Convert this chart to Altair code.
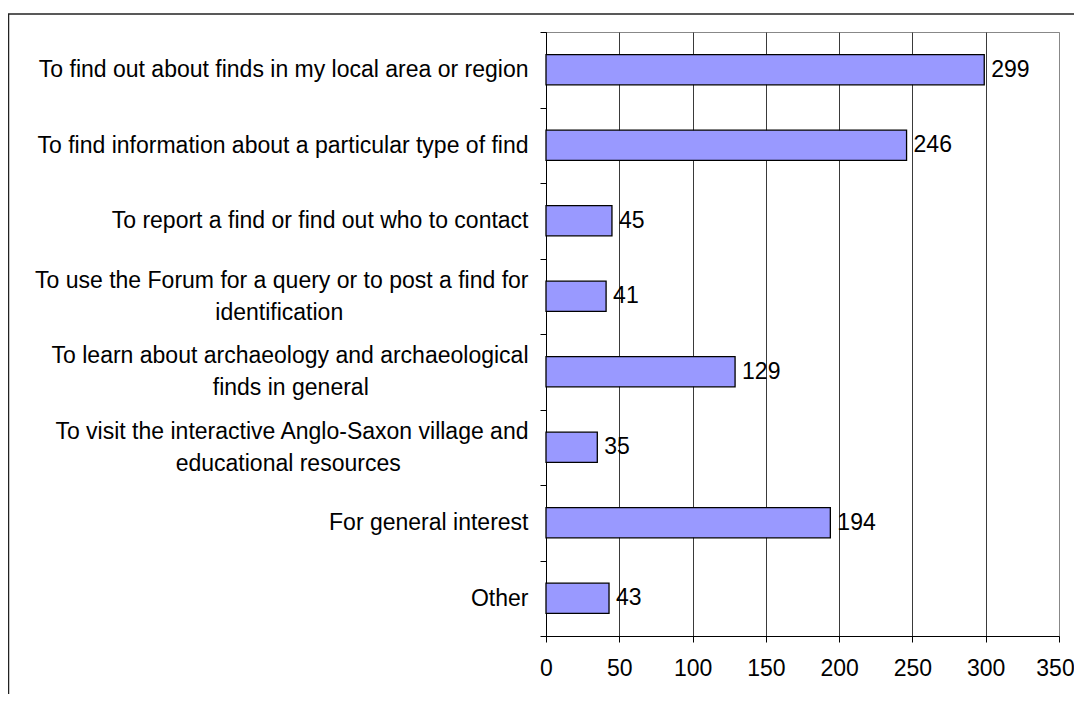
import altair as alt
import pandas as pd

# Category labels; "|" marks a line break in the axis label.
categories = [
    "To find out about finds in my local area or region",
    "To find information about a particular type of find",
    "To report a find or find out who to contact",
    "To use the Forum for a query or to post a find for|identification",
    "To learn about archaeology and archaeological|finds in general",
    "To visit the interactive Anglo-Saxon village and|educational resources",
    "For general interest",
    "Other",
]
counts = [299, 246, 45, 41, 129, 35, 194, 43]
x_ticks = [0, 50, 100, 150, 200, 250, 300, 350]

# Arial-style advance widths (1/1000 em), used only to centre the second
# line of a wrapped label under its first line (labels are right-aligned).
_W = dict(zip("abcdefghijklmnopqrstuvwxyz",
              [556, 556, 500, 556, 556, 278, 556, 556, 222, 222, 500, 222, 833,
               556, 556, 556, 556, 333, 500, 278, 556, 500, 722, 500, 500, 500]))
_W.update({" ": 278, "-": 333, "T": 611, "F": 611, "A": 667, "S": 667, "O": 778})


def _width(s):
    return sum(_W.get(c, 556) for c in s)


def centre_lines(label):
    parts = label.split("|")
    if len(parts) == 1:
        return label
    first = parts[0]
    out = [first]
    for p in parts[1:]:
        n = max(0, round((_width(first) - _width(p)) / 2 / 278))
        # non-breaking spaces closed by a zero-width space so they are not trimmed
        out.append(p + "\u00a0" * n + "\u200b")
    return "|".join(out)


display_labels = [centre_lines(c) for c in categories]

df = pd.DataFrame({"reason": display_labels, "count": counts})

FONT = "Liberation Sans, Arial, sans-serif"
FS = 23

x_enc = alt.X(
    "count:Q",
    title=None,
    scale=alt.Scale(domain=[0, 350], nice=False, zero=True),
    axis=alt.Axis(
        values=x_ticks,
        grid=True,
        gridColor={"condition": {"test": "datum.value === 350", "value": "#888888"}, "value": "#3a3a3a"},
        gridWidth=1,
        tickSize=6,
        tickColor="black",
        domainColor="black",
        labelFont=FONT,
        labelFontSize=FS,
        labelColor="black",
        labelPadding=15,
        labelFlush=False,
        labelOffset={"condition": {"test": "datum.value === 350", "value": -4}, "value": 0},
    ),
)
y_enc = alt.Y(
    "reason:N",
    sort=display_labels,
    title=None,
    scale=alt.Scale(paddingInner=0, paddingOuter=0),
    axis=alt.Axis(
        labelExpr="split(datum.label, '|')",
        labelAlign="right",
        labelFont=FONT,
        labelFontSize=FS,
        labelColor="black",
        labelLineHeight=32,
        labelOffset={"condition": {"test": "indexof(datum.label, '|') >= 0", "value": -16}, "value": 0},
        labelPadding=12,
        labelLimit=700,
        tickBand="extent",
        tickSize=6,
        tickColor="black",
        domainColor="black",
        grid=False,
    ),
)

bars = alt.Chart(df).mark_bar(
    color="#9999FF", stroke="black", strokeWidth=1.3, height={"band": 0.4}
).encode(x=x_enc, y=y_enc)

labels = alt.Chart(df).mark_text(
    align="left", baseline="middle", dx=7, font=FONT, fontSize=FS, color="black"
).encode(x=x_enc, y=y_enc, text="count:Q")

border_df = pd.DataFrame({"k": [0]})
top_border = alt.Chart(border_df).mark_rule(color="#222222", strokeWidth=1.5).encode(
    x=alt.value(-538), x2=alt.value(528), y=alt.value(-18)
)
left_border = alt.Chart(border_df).mark_rule(color="#222222", strokeWidth=1.5).encode(
    x=alt.value(-537.5), y=alt.value(-18), y2=alt.value(662)
)

chart = (
    alt.layer(bars, labels, top_border, left_border)
    .properties(
        width=513,
        height=604,
        autosize=alt.AutoSizeParams(type="none"),
        padding={"left": 538, "top": 24, "right": 15, "bottom": 58},
        background="white",
    )
    .configure_view(stroke="#888888", strokeWidth=1)
)

chart.save("out.html", embed_options={"renderer": "svg", "actions": False})
